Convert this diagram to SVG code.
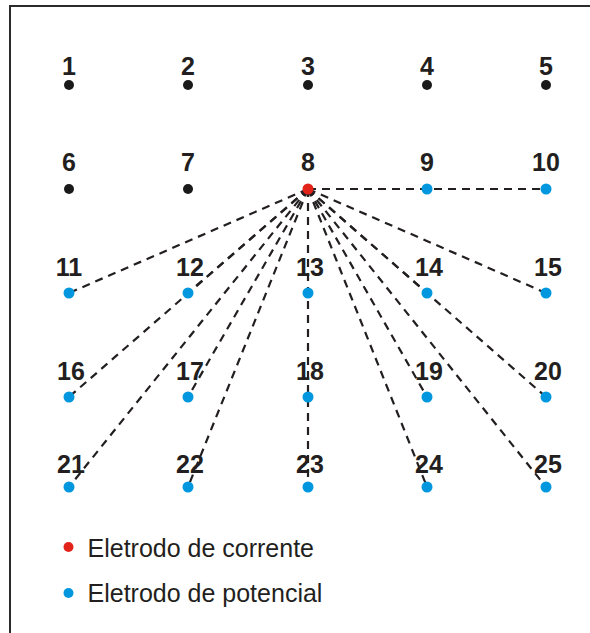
<svg xmlns="http://www.w3.org/2000/svg" width="590" height="633" viewBox="0 0 590 633">
<style>
.lbl{font-family:"Liberation Sans",Arial,sans-serif;font-weight:bold;font-size:25px;fill:#231f20;text-anchor:middle}
.leg{font-family:"Liberation Sans",Arial,sans-serif;font-size:25px;fill:#231f20}
.blk{fill:#1a1a1a}
.cur{fill:#e2231a}
.pot{fill:#0097de}
.con line{stroke:#231f20;stroke-width:2.2;stroke-dasharray:8 6;fill:none}
</style>
<rect x="0" y="0" width="590" height="633" fill="#ffffff"/>
<rect x="10" y="6" width="640" height="700" fill="none" stroke="#2b2b2b" stroke-width="2"/>
<g id="connectors" class="con">
<line x1="308" y1="189" x2="546" y2="189"/>
<line x1="308" y1="189" x2="69" y2="293"/>
<line x1="308" y1="189" x2="188" y2="293"/>
<line x1="308" y1="189" x2="308" y2="487"/>
<line x1="308" y1="189" x2="427" y2="293"/>
<line x1="308" y1="189" x2="546" y2="293"/>
<line x1="308" y1="189" x2="69" y2="397"/>
<line x1="308" y1="189" x2="188" y2="397"/>
<line x1="308" y1="189" x2="427" y2="397"/>
<line x1="308" y1="189" x2="546" y2="397"/>
<line x1="308" y1="189" x2="69" y2="487"/>
<line x1="308" y1="189" x2="188" y2="487"/>
<line x1="308" y1="189" x2="427" y2="487"/>
<line x1="308" y1="189" x2="546" y2="487"/>
</g>
<g id="n1"><text class="lbl" x="69" y="75">1</text><circle class="blk" cx="69" cy="85" r="5"/></g>
<g id="n2"><text class="lbl" x="188" y="75">2</text><circle class="blk" cx="188" cy="85" r="5"/></g>
<g id="n3"><text class="lbl" x="308" y="75">3</text><circle class="blk" cx="308" cy="85" r="5"/></g>
<g id="n4"><text class="lbl" x="427" y="75">4</text><circle class="blk" cx="427" cy="85" r="5"/></g>
<g id="n5"><text class="lbl" x="546" y="75">5</text><circle class="blk" cx="546" cy="85" r="5"/></g>
<g id="n6"><text class="lbl" x="69" y="171">6</text><circle class="blk" cx="69" cy="189" r="5"/></g>
<g id="n7"><text class="lbl" x="188" y="171">7</text><circle class="blk" cx="188" cy="189" r="5"/></g>
<g id="n8"><text class="lbl" x="308" y="171">8</text><circle class="cur" cx="308" cy="189" r="5.5"/></g>
<g id="n9"><text class="lbl" x="427" y="171">9</text><circle class="pot" cx="427" cy="189" r="5.5"/></g>
<g id="n10"><text class="lbl" x="546" y="171">10</text><circle class="pot" cx="546" cy="189" r="5.5"/></g>
<g id="n11"><text class="lbl" x="69" y="276">11</text><circle class="pot" cx="69" cy="293" r="5.5"/></g>
<g id="n12"><text class="lbl" x="190" y="276">12</text><circle class="pot" cx="188" cy="293" r="5.5"/></g>
<g id="n13"><text class="lbl" x="310" y="276">13</text><circle class="pot" cx="308" cy="293" r="5.5"/></g>
<g id="n14"><text class="lbl" x="429" y="276">14</text><circle class="pot" cx="427" cy="293" r="5.5"/></g>
<g id="n15"><text class="lbl" x="548" y="276">15</text><circle class="pot" cx="546" cy="293" r="5.5"/></g>
<g id="n16"><text class="lbl" x="71" y="380">16</text><circle class="pot" cx="69" cy="397" r="5.5"/></g>
<g id="n17"><text class="lbl" x="190" y="380">17</text><circle class="pot" cx="188" cy="397" r="5.5"/></g>
<g id="n18"><text class="lbl" x="310" y="380">18</text><circle class="pot" cx="308" cy="397" r="5.5"/></g>
<g id="n19"><text class="lbl" x="429" y="380">19</text><circle class="pot" cx="427" cy="397" r="5.5"/></g>
<g id="n20"><text class="lbl" x="548" y="380">20</text><circle class="pot" cx="546" cy="397" r="5.5"/></g>
<g id="n21"><text class="lbl" x="71" y="473">21</text><circle class="pot" cx="69" cy="487" r="5.5"/></g>
<g id="n22"><text class="lbl" x="190" y="473">22</text><circle class="pot" cx="188" cy="487" r="5.5"/></g>
<g id="n23"><text class="lbl" x="310" y="473">23</text><circle class="pot" cx="308" cy="487" r="5.5"/></g>
<g id="n24"><text class="lbl" x="429" y="473">24</text><circle class="pot" cx="427" cy="487" r="5.5"/></g>
<g id="n25"><text class="lbl" x="548" y="473">25</text><circle class="pot" cx="546" cy="487" r="5.5"/></g>
<g id="legend">
<circle class="cur" cx="68.5" cy="547" r="5"/>
<text class="leg" x="87.5" y="557">Eletrodo de corrente</text>
<circle class="pot" cx="68.5" cy="593" r="5"/>
<text class="leg" x="87.5" y="602">Eletrodo de potencial</text>
</g>
</svg>
